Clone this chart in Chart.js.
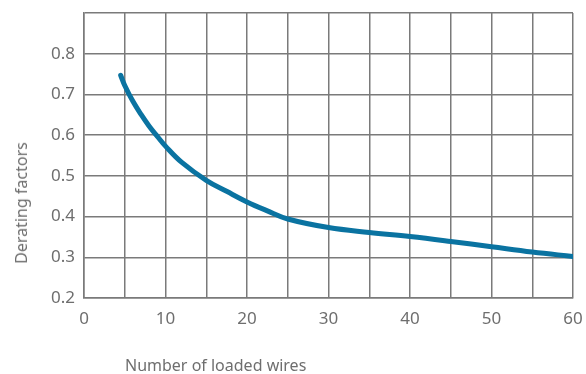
<!DOCTYPE html>
<html>
<head>
<meta charset="utf-8">
<script src="https://cdn.jsdelivr.net/npm/chart.js@4/dist/chart.umd.min.js"></script>
<style>
  body { margin: 0; background: #fff; }
  #wrap { position: relative; width: 586px; height: 374px; }
  .axis-title {
    position: absolute;
    font-family: "Noto Sans", sans-serif;
    font-size: 16px;
    line-height: 20px;
    color: #6e6e6e;
    white-space: nowrap;
  }
  #xTitle { left: 125px; top: 355px; }
  #yTitle { left: 21px; top: 203px; transform: translate(-50%, -50%) rotate(-90deg); }
</style>
</head>
<body>
<div id="wrap">
  <canvas id="deratingChart" width="586" height="374"></canvas>
  <div class="axis-title" id="xTitle">Number of loaded wires</div>
  <div class="axis-title" id="yTitle">Derating factors</div>
</div>
<script>
// wires vs derating factor
const wires = [4.5, 5, 6, 7, 8, 9, 10, 12, 15, 17.5, 20, 22.5, 25, 30, 35, 40, 45, 50, 55, 60];
const factors = [0.747, 0.722, 0.683, 0.651, 0.622, 0.597, 0.573, 0.533, 0.489, 0.462, 0.436, 0.414, 0.394, 0.373, 0.361, 0.351, 0.339, 0.326, 0.313, 0.302];

const xTickLabels = [0, 10, 20, 30, 40, 50, 60];
const yTickLabels = [0.2, 0.3, 0.4, 0.5, 0.6, 0.7, 0.8];

const gridColor = "#7a7a7a";
const tickColor = "#6e6e6e";
const tickFont = { family: "Noto Sans", size: 17 };

const ctx = document.getElementById("deratingChart");

new Chart(ctx, {
  type: "line",
  data: {
    datasets: [
      {
        data: wires.map((w, i) => ({ x: w, y: factors[i] })),
        borderColor: "#0a73a1",
        borderWidth: 5,
        borderCapStyle: "round",
        pointRadius: 0,
        tension: 0.4,
        fill: false,
      },
    ],
  },
  options: {
    responsive: false,
    animation: false,
    layout: { padding: { top: 13, right: 13, left: 0, bottom: 0 } },
    plugins: { legend: { display: false }, tooltip: { enabled: false } },
    scales: {
      x: {
        type: "linear",
        min: 0,
        max: 60,
        ticks: {
          stepSize: 5,
          color: tickColor,
          font: tickFont,
          padding: 11,
          maxRotation: 0,
          callback: (v) => (xTickLabels.includes(v) ? String(v) : ""),
        },
        grid: { color: gridColor, lineWidth: 1.5, drawTicks: false },
        border: { color: gridColor, width: 1.5 },
        afterFit: (scale) => {
          scale.height = 76;
          scale.paddingLeft = 0;
          scale.paddingRight = 0;
        },
      },
      y: {
        type: "linear",
        min: 0.2,
        max: 0.9,
        ticks: {
          stepSize: 0.1,
          color: tickColor,
          font: tickFont,
          padding: 9,
          callback: (v) => {
            const r = Math.round(v * 10) / 10;
            return yTickLabels.includes(r) ? r.toFixed(1) : "";
          },
        },
        grid: { color: gridColor, lineWidth: 1.5, drawTicks: false },
        border: { color: gridColor, width: 1.5 },
        afterFit: (scale) => {
          scale.width = 84;
          scale.paddingTop = 0;
          scale.paddingBottom = 0;
        },
      },
    },
  },
});
</script>
</body>
</html>
